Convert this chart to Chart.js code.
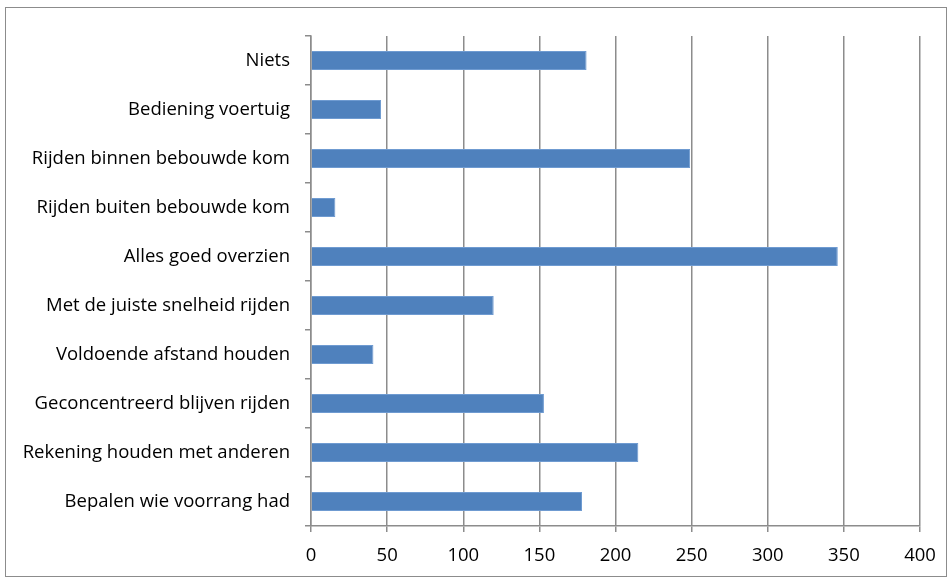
<!DOCTYPE html>
<html>
<head>
<meta charset="utf-8">
<script src="https://cdn.jsdelivr.net/npm/chart.js@4"></script>
<style>
  html, body { margin: 0; padding: 0; background: #fff; }
  #wrap { width: 952px; height: 580px; }
</style>
</head>
<body>
<div id="wrap"><canvas id="myChart" width="952" height="580"></canvas></div>
<script>
// categorieën van boven naar beneden
const categorieen = [
    "Niets",
    "Bediening voertuig",
    "Rijden binnen bebouwde kom",
    "Rijden buiten bebouwde kom",
    "Alles goed overzien",
    "Met de juiste snelheid rijden",
    "Voldoende afstand houden",
    "Geconcentreerd blijven rijden",
    "Rekening houden met anderen",
    "Bepalen wie voorrang had"
];
const aantallen = [181, 46, 249, 16, 346, 120, 41, 153, 215, 178];
const xTicks = [0, 50, 100, 150, 200, 250, 300, 350, 400];

const grijs = "#8c8c8c";
const lettertype = { family: "'Open Sans', sans-serif", size: 18.5 };

// rand om de hele grafiek heen
const randPlugin = {
    id: "rand",
    beforeDraw(chart) {
        const ctx = chart.ctx;
        ctx.save();
        ctx.strokeStyle = grijs;
        ctx.lineWidth = 1;
        ctx.strokeRect(5.5, 7.5, 941, 569);
        ctx.restore();
    }
};

const config = {
    type: "bar",
    data: {
        labels: categorieen,
        datasets: [{
            data: aantallen,
            backgroundColor: "#4f81bd",
            borderColor: "#6f9bd1",
            borderWidth: 1,
            borderSkipped: "start",
            barPercentage: 0.78,
            categoryPercentage: 0.5
        }]
    },
    options: {
        indexAxis: "y",
        responsive: false,
        animation: false,
        layout: { padding: { top: 36, right: 32, left: 0, bottom: 0 } },
        plugins: {
            legend: { display: false },
            tooltip: { enabled: false }
        },
        scales: {
            x: {
                min: 0,
                max: 400,
                afterBuildTicks: (scale) => { scale.ticks = xTicks.map(v => ({ value: v })); },
                afterFit: (scale) => { scale.height = 54; },
                grid: { color: grijs, lineWidth: 1.5, tickLength: 6 },
                border: { color: grijs, width: 1.5 },
                ticks: {
                    color: "#000",
                    padding: 13,
                    font: lettertype
                }
            },
            y: {
                afterFit: (scale) => { scale.width = 311; },
                grid: { drawOnChartArea: false, color: grijs, lineWidth: 1.5, tickLength: 6 },
                border: { color: grijs, width: 1.5 },
                ticks: {
                    color: "#000",
                    padding: 15,
                    autoSkip: false,
                    font: lettertype
                }
            }
        }
    },
    plugins: [randPlugin]
};

new Chart(document.getElementById("myChart").getContext("2d"), config);
</script>
</body>
</html>
